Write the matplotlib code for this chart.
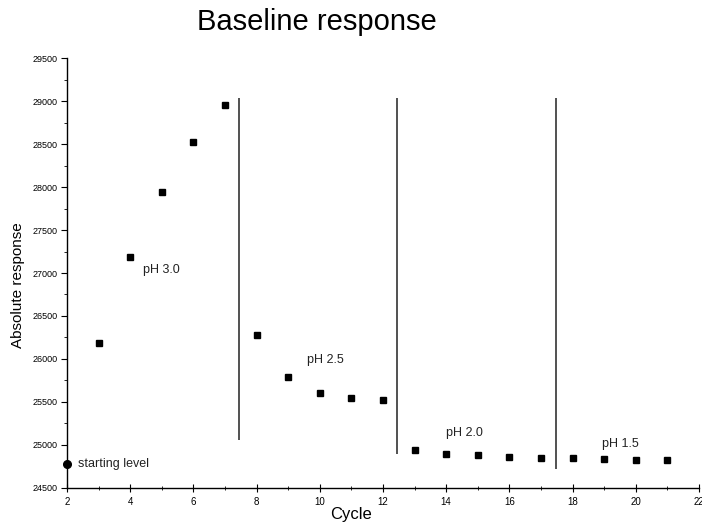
import matplotlib.pyplot as plt
from matplotlib.ticker import MultipleLocator

plt.rcParams['font.family'] = ['Liberation Sans', 'DejaVu Sans']

# data
start_cycle = [2]
start_level = [24772]
cycles = [3, 4, 5, 6, 7, 8, 9, 10, 11, 12, 13, 14, 15, 16, 17, 18, 19, 20, 21]
response = [26181, 27186, 27946, 28524, 28959, 26277, 25790, 25602, 25544, 25521,
            24935, 24892, 24877, 24857, 24842, 24842, 24834, 24826, 24826]

# phase separators: x, bottom, top
sep_x = [7.43, 12.44, 17.49]
sep_bottom = [25055, 24889, 24714]
sep_top = [29033, 29033, 29033]

labels = ['pH 3.0', 'pH 2.5', 'pH 2.0', 'pH 1.5', 'starting level']
label_x = [4.41, 9.61, 14.0, 18.93, 2.34]
label_y = [27034, 25987, 25133, 25009, 24775]

fig = plt.figure(figsize=(7.02, 5.24), dpi=100)
ax = fig.add_axes([0.0954, 0.0693, 0.9003, 0.8194])

ax.plot(cycles, response, 'ks', markersize=4.5, clip_on=False)
ax.plot(start_cycle, start_level, 'ko', markersize=5.5, clip_on=False)
ax.vlines(sep_x, sep_bottom, sep_top, colors='#333333', linewidth=1.2)

for t, x, y in zip(labels, label_x, label_y):
    ax.text(x, y, t, fontsize=9, color='#222222', va='center', ha='left')

ax.set_xlim(2, 22)
ax.set_ylim(24500, 29500)
ax.xaxis.set_major_locator(MultipleLocator(2))
ax.xaxis.set_minor_locator(MultipleLocator(1))
ax.yaxis.set_major_locator(MultipleLocator(500))
ax.yaxis.set_minor_locator(MultipleLocator(250))

for s in ['top', 'right']:
    ax.spines[s].set_visible(False)
for s in ['left', 'bottom']:
    ax.spines[s].set_linewidth(1.0)

ax.tick_params(axis='x', which='major', direction='inout', length=6, labelsize=7, pad=4)
ax.tick_params(axis='x', which='minor', direction='inout', length=3)
ax.tick_params(axis='y', which='major', direction='out', length=4, labelsize=6.5, pad=3)
ax.tick_params(axis='y', which='minor', direction='out', length=2)

ax.set_xlabel('Cycle', fontsize=12)
ax.xaxis.set_label_coords(0.45, -0.045)
ax.set_ylabel('Absolute response', fontsize=11)
ax.yaxis.set_label_coords(-0.066, 0.472)

fig.text(0.452, 0.958, 'Baseline response', fontsize=21, ha='center', va='center')

fig.savefig('out.png', dpi=100)
